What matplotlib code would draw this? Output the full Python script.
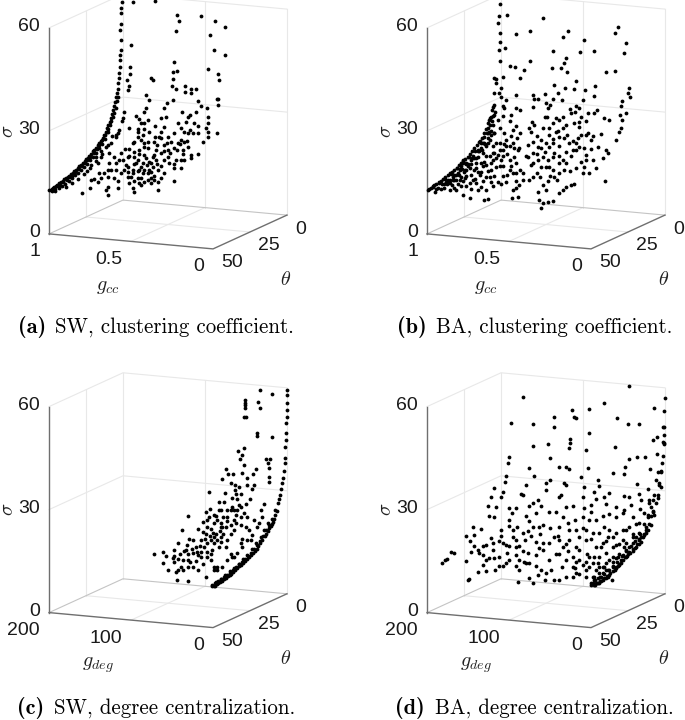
"""Four 3D scatter panels: sigma against theta and a graph metric."""

import numpy as np
import matplotlib
matplotlib.use("Agg")
import matplotlib.pyplot as plt
from mpl_toolkits.mplot3d import proj3d

plt.rcParams["font.family"] = ["Liberation Sans", "DejaVu Sans"]
plt.rcParams["mathtext.fontset"] = "cm"

SIGMA_TICKS = [0, 30, 60]
THETA_TICKS = [0, 25, 50]
GCC_TICKS = [1, 0.5, 0]
GDEG_TICKS = [200, 100, 0]
GCC_TICK_LABELS = ["1", "0.5", "0"]
GDEG_TICK_LABELS = ["200", "100", "0"]

# Only one projection is available, so the depth of the cloud points cannot be
# read: each cloud is listed as (g, sigma) on the theta plane named next to it.

# (a) SW, clustering coefficient
a_curve_g = 1.0
a_curve_theta = [49.8, 49, 48.2, 47.5, 46.6, 45.3, 44.5, 43, 42, 40.8, 39.6, 38.5, 37.4, 36.3, 35.2, 34, 33, 31.8,
                 30.6, 29.5, 28.4, 27.3, 26, 25, 23.8, 22.7, 21.6, 20.5, 19.4, 18.2, 17, 16, 15, 13.7, 12.6, 11.5,
                 10.7, 9.9, 9, 8.1, 7.3, 6.5, 5.8, 5.2, 4.6, 4.05, 3.6, 3.15, 2.8, 2.5, 2.2, 2.0, 1.8, 1.6, 1.35,
                 1.8, 1.6, 1.35, 1.1, 0.9, 0.8]
a_curve_sigma = [12.6, 12.6, 12.7, 12.8, 12.9, 13, 13.2, 13.4, 13.5, 13.6, 13.8, 13.9, 14, 14.2, 14.4, 14.7, 14.9, 15,
                 15.3, 15.6, 15.8, 16.1, 16.5, 16.8, 17, 17.3, 17.8, 18.2, 18.5, 18.9, 19.3, 19.7, 20.3, 20.9, 21.5,
                 22.2, 23, 23.8, 24.6, 25.4, 26.4, 27.5, 28.6, 29.7, 30.8, 31.9, 33.2, 34.6, 36, 37.4, 39.3, 41.2,
                 42.6, 44.1, 46.9, 49.9, 51.5, 54.7, 56.2, 58, 60.2]
a_band_g = 0.975
a_band_theta = [48.5, 46, 44, 42, 39.5, 37, 35, 33, 31, 29, 27, 25, 23, 21, 19, 17, 15, 13]
a_band_sigma = [12.3, 12.6, 12.9, 13.1, 13.5, 13.8, 14.2, 14.6, 15, 15.5, 16, 16.6, 17.3, 18, 18.9, 19.9, 21, 22.5]
a_band2_g = 0.99
a_band2_theta = [49.3, 47, 45, 43.5, 41.5, 39, 37, 35.7, 33.5, 31, 29, 27, 25.5, 23.3, 21, 19, 17.5, 15.5, 13, 12, 11,
                 10, 9, 8, 7, 6, 5, 4.5]
a_band2_sigma = [12.4, 12.6, 12.9, 13.1, 13.4, 13.7, 14, 14.2, 14.7, 15.2, 15.7, 16.3, 16.8, 17.3, 18, 18.7, 19.4, 20.5,
                 21.5, 22.3, 23, 24, 24.8, 25.8, 26.9, 28, 30, 31]
a_band3_g = 0.95
a_band3_theta = [44, 40, 36, 32, 28, 24, 20, 16, 13]
a_band3_sigma = [12.6, 13, 13.5, 14.2, 15.2, 16.2, 17.6, 19.5, 21.5]
a_cloud_theta = 30
a_cloud = [(.671, 64.9), (.533, 65.9), (.399, 62.4), (.386, 60.8), (.404, 57.8), (.252, 62.7), (.167, 61.7),
           (.110, 60.3), (.197, 57.4), (.177, 53.2), (.108, 52.1), (.681, 52.4), (.687, 46.1), (.685, 44), (.706, 42.3),
           (.693, 40.5), (.697, 39.3), (.417, 48.6), (.427, 45.6), (.399, 46.1), (.425, 43.6), (.561, 43.3),
           (.549, 42.8), (.209, 47.4), (.152, 46.3), (.146, 44.7), (.433, 41.6), (.404, 40.8), (.352, 41.9),
           (.315, 41.2), (.287, 41.4), (.352, 40.3), (.315, 40), (.587, 38.2), (.573, 37), (.157, 39), (.148, 39),
           (.148, 37.4), (.274, 37.8), (.254, 36.6), (.425, 37.6), (.461, 36.4), (.589, 34.6), (.604, 33.4),
           (.478, 34.9), (.725, 32.7), (.732, 30.9), (.736, 30.1), (.652, 31.9), (.634, 31.1), (.217, 36.2),
           (.213, 33.6), (.213, 31.8), (.224, 30.2), (.213, 29.2), (.213, 27.6), (.157, 29), (.244, 26.2), (.287, 34.8),
           (.323, 33.6), (.370, 34.4), (.295, 31.4), (.274, 30.7), (.346, 31.6), (.376, 29.5), (.323, 29.2),
           (.358, 28.6), (.496, 31.9), (.467, 32.5), (.537, 29.5), (.478, 29.6), (.620, 29.9), (.600, 30), (.636, 28.1),
           (.600, 28.5), (.569, 27.7), (.640, 25.9), (.661, 24.4), (.691, 28.2), (.760, 26.4), (.770, 25.3),
           (.801, 23.3), (.537, 26.4), (.507, 26.3), (.579, 24.8), (.543, 24.9), (.478, 24.3), (.437, 25.3),
           (.396, 25.1), (.356, 25.7), (.305, 28.4), (.366, 23.3), (.315, 22), (.274, 22.5), (.417, 23.5), (.457, 22.8),
           (.528, 22.5), (.579, 22.8), (.630, 22.1), (.671, 23.9), (.691, 22), (.742, 20.7), (.752, 18.6), (.772, 17.6),
           (.813, 17.4), (.864, 19.1), (.884, 17.1), (.640, 19.1), (.600, 20.8), (.610, 18.4), (.561, 18.5),
           (.528, 19.6), (.478, 20), (.407, 20.2), (.366, 22), (.315, 21.1), (.417, 17.7), (.376, 17.9), (.478, 16),
           (.518, 16.8), (.569, 16.5), (.610, 15.4), (.650, 18.1), (.701, 15.4), (.732, 18.7), (.772, 15.6),
           (.823, 15.4), (.874, 14.3), (.925, 12), (.884, 11.7), (.823, 13.5), (.782, 13.2), (.762, 10.4), (.823, 10.6),
           (.833, 9.6), (.823, 8.2), (.929, 9.8), (.980, 8.2), (.701, 13.9), (.640, 13.8), (.600, 13), (.561, 14.2),
           (.518, 13.4), (.421, 14), (.518, 11), (.691, 12.1), (.671, 10.8), (.661, 9.8), (.630, 12.4), (.762, 12.4),
           (.752, 27.3), (.772, 26), (.833, 22.1), (.864, 20.9), (.894, 19), (.925, 16.4), (.949, 14.7),
           (.661, 19.9), (.620, 17.2), (.579, 15.5), (.549, 17.5), (.589, 19.9), (.630, 16.3), (.671, 16.1),
           (.711, 17.4), (.496, 17.9), (.447, 19), (.376, 20.3), (.457, 20.9), (.498, 21.8), (.549, 20.5), (.600, 24.2),
           (.620, 25), (.498, 26.1), (.457, 26.7), (.417, 27.9), (.376, 26.1), (.335, 24.4), (.274, 28.6), (.335, 28.3),
           (.539, 13.8), (.579, 13.6), (.620, 11.9), (.561, 12.7), (.671, 15.2), (.721, 15.9), (.742, 14.9),
           (.803, 15.5), (.844, 14.4), (.864, 12.8), (.904, 12.6), (.783, 19.5), (.813, 20.3), (.701, 19.8),
           (.661, 21.4), (.610, 26.6), (.640, 27.4), (.579, 31), (.498, 28), (.396, 30.9), (.335, 33.1),
           (.70, 17), (.68, 14), (.66, 13), (.64, 16), (.62, 14), (.60, 16.5), (.58, 18), (.56, 16), (.54, 15),
           (.52, 18.5), (.50, 14.5), (.66, 18), (.63, 21), (.60, 23), (.57, 19), (.54, 21), (.52, 24), (.48, 22.5),
           (.46, 25), (.44, 22), (.42, 19), (.40, 23), (.38, 25), (.36, 20.5), (.34, 26), (.69, 20), (.72, 22)]

# (b) BA, clustering coefficient
b_curve_g = 1.0
b_curve_theta = [49.5, 48.5, 47.4, 46, 45, 43.8, 42, 40.5, 39.4, 38, 36, 34.8, 33, 31.5, 30, 28.5, 27, 25.6, 24, 22.5,
                 21, 19.5, 18, 16.5, 14.6, 13, 11.3, 10, 9, 7.8, 6.8, 5.6, 4.5, 3.2]
b_curve_sigma = [12.7, 12.9, 13, 13.2, 13.3, 13.3, 13.4, 13.4, 13.9, 14.1, 14.4, 14.6, 14.8, 15, 15.4, 15.7, 16, 16.4,
                 16.8, 17.1, 17.6, 18.1, 18.6, 19.2, 19.9, 20.7, 21.7, 22.8, 24.1, 25, 25.6, 28.3, 32, 36]
b_band_g = 0.96
b_band_theta = [49, 47, 45, 43, 41, 39, 37, 35, 33, 31, 29, 27, 25, 23, 21, 19, 17, 15, 13, 11, 9]
b_band_sigma = [12.2, 12.9, 12.4, 13.4, 12.8, 13.8, 13.2, 14.4, 13.9, 15.2, 14.6, 16, 15.6, 17, 16.6, 18.2, 18, 19.6,
                19.4, 21.4, 21.6]
b_band2_g = 0.98
b_band2_theta = [48, 46, 44, 42, 40, 38, 36, 34, 32, 30, 28, 26, 24, 22, 20, 18, 16, 14, 12, 10, 8, 6]
b_band2_sigma = [13.3, 12.5, 13.7, 13, 14.2, 13.5, 14.9, 14.2, 15.7, 15, 16.5, 15.8, 17.4, 16.8, 18.4, 18, 20, 19.5,
                 21.9, 21.8, 24.8, 27]
b_near_theta = 40
b_near = [(.648, 66.6), (.652, 62.9), (.604, 63.4), (.656, 61.1), (.648, 58.2), (.547, 58.3), (.648, 55.6), (.652, 53.2),
          (.612, 53.8), (.644, 50), (.587, 48.8), (.553, 48.7), (.679, 44.8), (.628, 45.3), (.669, 43.4), (.639, 42.1),
          (.652, 40.5), (.639, 39.6), (.679, 37), (.608, 38.8), (.693, 35.5), (.547, 40.5), (.618, 36.3), (.547, 36.6),
          (.526, 36.2), (.709, 33), (.689, 31.2), (.628, 33.9), (.577, 34.6), (.587, 32.6), (.547, 31.3), (.648, 30.4),
          (.719, 30.1), (.740, 27.5), (.770, 26), (.709, 26.7), (.669, 25.9), (.618, 29), (.577, 28.3), (.526, 29.4),
          (.567, 26.4), (.537, 24.6), (.608, 25.2), (.648, 24.1), (.689, 22.9), (.730, 21.8), (.780, 21.5), (.821, 20.4),
          (.872, 20.2), (.689, 21), (.628, 22.2), (.587, 21.4), (.547, 20.6), (.648, 19.2), (.699, 18), (.750, 18.8),
          (.801, 17.6), (.852, 17.3), (.892, 17.2), (.567, 17.6), (.628, 16.4), (.679, 16.2), (.730, 15.9), (.770, 16.2),
          (.811, 14.6), (.872, 13.9), (.923, 14.1), (.974, 13.4), (.608, 15), (.547, 15.3), (.689, 13.2), (.730, 12.1),
          (.780, 11.8), (.831, 9.2), (.872, 10), (.923, 11.7), (.882, 12.4), (.740, 9.1), (.719, 9.4), (.567, 12.8),
          (.547, 13.3), (.573, 10.3), (.537, 10.9), (.984, 11.4), (.963, 13.1), (.953, 11.1), (.933, 14.9), (.913, 14.2),
          (.902, 16.2), (.882, 18.2), (.862, 16.7), (.852, 19.3), (.831, 18), (.811, 21.4), (.791, 19.6), (.780, 23.5),
          (.750, 22.7), (.750, 25.6), (.719, 27.1), (.730, 24.7), (.699, 29.2), (.709, 31.1), (.679, 34.1), (.689, 33.6),
          (.892, 14.3), (.852, 15.4), (.821, 16), (.791, 18.1), (.760, 19.7), (.730, 19.4), (.709, 21.9), (.669, 21.6),
          (.628, 24.1), (.587, 25.3), (.557, 22.5), (.669, 19.1), (.628, 19.3), (.587, 18.5), (.547, 17.7), (.526, 18.8),
          (.608, 27.2), (.567, 30.2), (.648, 26), (.689, 24.9), (.679, 28.8), (.658, 32.8), (.628, 36.8), (.913, 11.3),
          (.852, 12.5), (.791, 13.7), (.750, 14.4), (.709, 16), (.658, 14.7), (.831, 13.6), (.882, 15.2), (.953, 13),
          (.80, 15), (.78, 17), (.76, 17), (.74, 20), (.72, 17.5), (.70, 20), (.68, 23), (.66, 22.5), (.64, 21), (.62, 26),
          (.60, 23), (.58, 19.5), (.56, 25), (.54, 28), (.60, 17), (.64, 14), (.70, 14.5), (.76, 12.6), (.82, 12),
          (.86, 15), (.90, 13), (.94, 12.5), (.84, 18.5), (.76, 24), (.72, 28.5)]
b_far_theta = 20
b_far = [(.640, 54.8), (.563, 58.8), (.443, 54), (.409, 55.9), (.315, 53.6), (.122, 56.5), (.106, 58.4), (.057, 53.7),
         (.071, 50.8), (.504, 49.5), (.336, 49.9), (.254, 50.6), (.423, 47.8), (.433, 46.3), (.640, 46.1), (.679, 43.3),
         (.508, 44.5), (.451, 44.9), (.419, 43.9), (.179, 44.7), (.122, 45.4), (.703, 40.7), (.496, 39.7), (.364, 41.4),
         (.431, 39.2), (.376, 38.9), (.246, 40.5), (.250, 37.6), (.305, 38.9), (.037, 40.7), (.047, 39.2), (.033, 38.3),
         (.473, 37.3), (.622, 36.2), (.553, 36.7), (.616, 35), (.595, 35.1), (.545, 34.1), (.520, 33.7), (.447, 35.5),
         (.317, 36.1), (.364, 34.1), (.368, 32.5), (.343, 33.6), (.081, 36.9), (.085, 35.2), (.057, 33.4), (.093, 32.7),
         (.081, 31.3), (.087, 28.8), (.098, 27.8), (.118, 25.3), (.189, 31.5), (.159, 31), (.236, 33.6), (.250, 32.5),
         (.291, 32.3), (.331, 31.2), (.343, 29.7), (.626, 32.8), (.539, 30.3), (.484, 30), (.534, 32.7), (.632, 28.4),
         (.616, 27.5), (.650, 26.4), (.565, 26.8), (.524, 26.9), (.423, 28.3), (.372, 29.1), (.484, 26.1), (.443, 27.3),
         (.343, 28.2), (.331, 25.8), (.301, 26), (.260, 25.9), (.209, 26.6), (.179, 22.1), (.169, 21.4), (.199, 19.6),
         (.260, 18.9), (.301, 18.7), (.343, 22.4), (.311, 22), (.364, 23.3), (.404, 23.1), (.433, 24.4), (.463, 24.8),
         (.524, 25), (.575, 23.3), (.626, 22.6), (.575, 20.9), (.626, 19.2), (.667, 18.1), (.707, 20.3), (.657, 21.5),
         (.496, 19.8), (.504, 18.8), (.534, 17.7), (.595, 17.4), (.626, 16.3), (.575, 15.5), (.545, 15.7), (.463, 17),
         (.423, 17.2), (.382, 21.2), (.331, 18.1), (.311, 16.7), (.321, 14.7), (.280, 14.9), (.240, 16.5), (.183, 13.1),
         (.433, 15.2), (.463, 14.1), (.496, 13), (.534, 11.4), (.565, 10.3), (.595, 8.2), (.545, 8.9), (.423, 10.4),
         (.443, 9.3), (.463, 8.3), (.392, 11), (.372, 11.3), (.626, 12.4), (.687, 11.2), (.646, 11.3), (.585, 5.8),
         (.565, 4.9), (.575, 3.4), (.534, 5.5), (.504, 5.9), (.707, 9.6),
         (.687, 13.1), (.636, 15.8), (.602, 13.5), (.563, 18.5), (.524, 21.6), (.545, 22.5), (.602, 24.2), (.595, 21.3),
         (.657, 17.9), (.524, 15.8), (.504, 14.9), (.463, 19), (.423, 20.6), (.443, 18.1), (.392, 19.3), (.364, 21.3),
         (.463, 21.9), (.504, 22.7), (.636, 25.5), (.504, 28.5), (.463, 29.6), (.270, 24.7), (.230, 22.9), (.443, 30.7),
         (.392, 31.9), (.291, 26.5),
         (.60, 19), (.55, 20), (.50, 24), (.47, 26.5), (.42, 25.5), (.38, 24), (.35, 25), (.30, 20), (.27, 22), (.40, 15),
         (.36, 16), (.52, 13), (.58, 12.5), (.48, 12), (.55, 30), (.50, 35.5), (.40, 33), (.30, 30)]

# (c) SW, degree centralization
c_curve_g = 0.0
c_curve_theta = [49.5, 48.9, 47.6, 46.4, 45.2, 44, 42.8, 41.4, 40, 38.8, 37.6, 36.2, 35, 33.6, 32.2, 30.9, 29.6, 28.2,
                 27, 25.8, 24.4, 23.2, 21.8, 20.6, 19.4, 18, 16.6, 15.1, 14, 13, 12, 11, 10.2, 9.4, 8.6, 7.8, 7, 6.1,
                 5.4, 4.7, 4, 3.4, 2.8, 2.2, 1.6, 1.3, 1.1, 0.9, 0.7, 0.5, 0.3, 0.2, 0.1, 0, 0]
c_curve_sigma = [11.9, 12, 12.1, 12.2, 12.4, 12.5, 12.6, 12.8, 12.95, 13.1, 13.3, 13.6, 13.8, 14.1, 14.3, 14.6, 14.9,
                 15.2, 15.5, 15.8, 16.1, 16.4, 16.7, 17.2, 17.7, 18.2, 19, 19.7, 20.3, 20.9, 21.4, 22, 22.4, 22.9,
                 23.6, 24.5, 25.5, 27.6, 28.6, 29.7, 31.2, 32.9, 34.4, 36.3, 38.4, 39.8, 43.1, 45, 47, 49.8, 51.5,
                 53.5, 55.5, 58, 59.4]
c_band_g = 5
c_band_theta = [48, 45, 42, 39, 36, 33, 30, 27, 24, 21, 18, 15, 12.5, 10]
c_band_sigma = [12, 12.3, 12.6, 13, 13.5, 14, 14.6, 15.3, 16, 17, 18.2, 19.5, 21, 22.5]
c_band2_g = 2.5
c_band2_theta = [49, 47, 45, 43, 41, 39, 37, 35, 33, 31, 29, 27, 25, 23, 21, 19, 17, 15, 13, 11, 9, 7]
c_band2_sigma = [12, 12.2, 12.4, 12.6, 12.8, 13, 13.4, 13.8, 14.2, 14.6, 15, 15.5, 16, 16.5, 17.1, 17.9, 18.7, 19.8,
                 21, 22.2, 23.6, 25.8]
c_cloud_theta = 10
c_cloud = [(32.9, 57.8), (32.9, 56.9), (32.9, 56.2), (32.9, 55.4), (34.1, 52.7), (32.1, 52.8), (15.4, 61.1), (17.1, 57.5),
           (14.6, 55.9), (0.5, 60.1), (18.7, 48.5), (18.7, 47.5), (0.8, 47.6), (34.9, 43.8), (41.5, 42.6), (37.4, 41.5),
           (39, 40.5), (7.3, 41.2), (2.4, 41.3), (5.7, 39.8), (3.7, 38.4), (3.7, 35.9), (3.7, 34.5), (34.1, 38.7),
           (19.9, 38), (22.8, 36.5), (56.1, 37), (61.8, 34.2), (53.7, 35.8), (47.6, 35.9), (37.4, 36.2), (30.1, 34.9),
           (22, 33.1), (24, 32.1), (50.4, 33), (45.1, 32.6), (40.2, 32.2), (45.5, 31.1), (38.2, 30.3), (42.3, 28.8),
           (77.6, 30), (64.6, 27.3), (58.5, 27.5), (48.4, 28.7), (26.8, 29.1), (32.1, 27.5), (9.8, 28), (13.8, 26),
           (34.9, 24.6), (30.1, 23.7), (62.6, 24.9), (54.5, 25.1), (46.3, 25.3), (75.6, 25.1), (81.3, 24), (102.4, 22.3),
           (70.7, 23.3), (66.7, 21.9), (60.6, 20.1), (54.5, 23.2), (78.9, 21.7), (79.7, 19.7), (74.8, 19.3), (44.3, 21.5),
           (38.2, 21.1), (32.1, 20.8), (15.9, 22.1), (17.9, 21.1), (24, 18.5), (30.1, 16.9), (36.2, 14.8), (46.3, 19.5),
           (50.4, 18.4), (54.5, 16.4), (62.6, 17.2), (68.7, 18), (70.7, 15.1), (62.6, 15.7), (56.5, 14.4), (84.9, 18.1),
           (86.9, 15.7), (97.1, 15.4), (101.1, 15.8), (110, 18.1), (115.4, 14.3), (119.5, 12), (93, 13.6), (82.9, 13.8),
           (72.8, 13.1), (78.9, 11), (86.9, 12.3), (97.1, 11.6), (103.1, 11.4), (109.3, 9.4), (115.4, 9.7), (111.4, 7.4),
           (119.5, 8.6), (121.5, 9.6), (133.7, 11.3), (129.7, 10.1), (143.9, 10.5), (132.9, 7.9), (127.6, 6), (117.5, 5.8),
           (116.3, 3.4), (103.1, 3.5), (90.9, 6.8), (97.1, 7.7), (103.1, 7.6), (81.3, 5.1), (66.7, 8.4), (54.5, 10.6),
           (48.4, 11.7), (38.2, 15.8), (26, 17), (70.7, 7.3), (60.6, 8.5), (42.3, 12.8),
           (70.7, 17), (74.8, 15.9), (78.9, 14.9), (66.7, 16.1), (64.6, 14.2), (81.3, 17.7), (62.6, 20.1), (56.5, 20.2),
           (50.4, 25.2), (48.4, 26.2), (42.3, 25.4), (38.2, 23.5), (86.9, 10.8), (93, 9.6), (103.1, 9.5), (109.3, 6.4),
           (115.4, 6.3), (105.2, 12.4), (90.9, 11.2), (84.9, 8.9), (74.8, 10.1), (70.7, 8.3), (46.3, 11.7), (66.7, 7.4),
           (50.4, 12.6), (36.2, 17.2), (28, 19.8), (22, 23), (11.8, 24.1), (62.6, 21.1), (70.7, 20.9), (76.8, 22.7),
           (46.3, 22.4), (38.2, 26.5), (30.1, 33),
           (55, 22), (60, 23), (65, 25), (68, 23), (72, 18), (76, 17), (82, 16), (88, 14), (92, 12), (98, 13), (104, 14),
           (108, 12), (112, 11), (120, 10.5), (60, 18), (64, 19), (50, 21), (44, 24), (40, 27), (44, 30), (58, 30), (84, 21),
           (90, 19), (100, 9), (80, 12.5), (75, 12)]

# (d) BA, degree centralization
d_curve_g = 0.0
d_curve_theta = [47.75, 47, 46, 45, 44, 43, 42.1, 41, 40, 39, 38, 37, 35.4, 34, 33, 32, 31, 30, 28.6, 27, 26, 25, 23.5,
                 21.8, 20.5, 19, 17.3, 16, 14.5, 12.8, 11, 9.5, 8, 6.1, 5, 3.8, 2.7, 2, 1.4, 0.9, 0.5]
d_curve_sigma = [12.1, 11.9, 12.2, 12, 12.3, 12.2, 12.4, 12.7, 12.6, 13, 12.9, 13.3, 13.5, 13.7, 14, 14.3, 14.5, 15,
                 15.6, 15.9, 16, 16.4, 16.5, 16.7, 17.5, 18.2, 19.2, 19.8, 20.4, 21.2, 22.5, 24.4, 25.8, 27.6, 29.8,
                 33, 36.2, 38.4, 40.5, 44.2, 48.8]
d_band_g = 4
d_band_theta = [48, 45, 42, 39, 36, 33, 30, 27, 24, 21, 18, 15, 12, 9.5, 7.5, 6]
d_band_sigma = [12.6, 12.9, 13, 13.5, 14, 14.6, 15.2, 16.3, 17, 17.9, 18.9, 20.4, 22.5, 24.8, 26.6, 28.4]
d_near_theta = 40
d_near = [(199.6, 12.6), (196.7, 13.3), (193.5, 13.7), (188.6, 15.8), (184.6, 15.7), (171.1, 21), (165.4, 19.5),
          (160.2, 21.4), (152, 23.4), (162.2, 23.9), (143.9, 30.2), (135.8, 35.7), (140.6, 32.9), (142.7, 27.3),
          (135.8, 27.4), (133.7, 30.2), (125.6, 34.9), (127.6, 33.4), (117.5, 45.1), (118.7, 43.3), (121.5, 39.4),
          (122.4, 37.9), (117.5, 30.3), (109.3, 30.4), (114.2, 28.9), (127.6, 23.7), (127.6, 21.8), (117.5, 26.9),
          (118.3, 24.9), (108.5, 25.1), (101.2, 23.3), (93.1, 26.9), (115.4, 55.2), (101.2, 63.1), (89, 55.3), (89, 49),
          (94.3, 42.4), (87, 40.3), (103.3, 34.6), (97.2, 37.5), (101.2, 34.5), (82.9, 33.4), (93.1, 31.3), (78.9, 31.6),
          (85, 29.5), (80.9, 25.7), (89, 25.5), (76.8, 26.3), (171.1, 13.8), (160.2, 18.2), (156.1, 17.3), (150, 18.4),
          (145.9, 19), (137.8, 19.6), (164.2, 16.6), (154.1, 16.3), (141.9, 15.2), (135.8, 15.3), (156.1, 10.9),
          (145.9, 11.2), (166.3, 8.5), (168.3, 8.1), (125.6, 13.1), (121.5, 14.1), (117.5, 15.2), (109.3, 16.8),
          (101.2, 18), (109.3, 13.5), (105.3, 12.6), (107.3, 9.1), (89, 9), (117.5, 19.1), (109.3, 21.2), (99, 21.4),
          (95, 17.6), (85, 17.4), (97.2, 14.7), (80.9, 19.4), (76.8, 19), (78.9, 13.1), (82.9, 11.6), (74.7, 10.3),
          (93.1, 10.4), (129.7, 20.3), (125.6, 19.9), (121.5, 19.5), (150, 16), (137.8, 17.7),
          (145.9, 14.6), (129.7, 15.9), (113.4, 22), (105.3, 19.4), (91, 22.6), (97.2, 28.3), (89, 32.3), (113.4, 23.9),
          (76.8, 20.9), (85, 14), (93.1, 14.8), (129.7, 13), (105.3, 15.5),
          (150, 13), (140, 21), (120, 17), (110, 19), (100, 15), (95, 24), (85, 21), (80, 23.5), (135, 12)]
d_far_theta = 0
d_far = [(135.8, 48.6), (135, 45.7), (113.4, 51), (111.4, 49.1), (108.5, 48.7), (115.4, 42.7), (115.4, 41.3), (116.7, 39.8),
         (92.3, 51.7), (92.3, 44.7), (74.8, 53.8), (58.5, 50), (44.3, 59.5), (44.7, 48.4), (32.1, 48.7), (13, 53.7),
         (0, 57), (0.8, 53.3), (96.3, 39.7), (142.7, 40.5), (140.2, 36.4), (128.9, 34), (120.7, 34.3), (117.5, 33.9),
         (94.3, 34.6), (60.6, 41.3), (44.3, 38.4), (34.1, 39.2), (24, 39.2), (9.8, 40.5), (14.2, 44.4), (10.2, 45.5),
         (2.8, 48.6), (0.8, 46.2), (2.8, 44.2), (1.6, 43.5), (63.8, 33.9), (48.4, 35.9), (49.6, 33.9), (139.8, 30),
         (145, 29), (145, 27), (122.8, 29.5), (120.7, 29), (102.4, 31.8), (98.4, 29), (82.1, 31.3), (80.1, 29.6),
         (18.3, 35.9), (8.9, 35.3), (4.9, 35.4), (11, 32.9), (6.9, 31.5), (21.1, 30.2), (34.6, 31.2), (68, 28), (50.4, 27.3),
         (43.5, 27.3), (31.3, 28.5), (29.3, 26.6), (41.5, 24.9), (49.6, 23.3), (51.6, 22.3), (74, 26.6), (71.9, 24.7),
         (86.2, 27.8), (84.2, 25.9), (90.3, 23.9), (98.4, 22.7), (112.6, 23.1), (120.7, 22.7), (128.9, 25.4), (126.8, 26),
         (141, 20.8), (132.9, 21), (124.7, 19.7), (118.6, 17.9), (100.4, 20.2), (92.3, 19.4), (84.2, 19.6), (67.9, 21.9),
         (59.8, 21.1), (39.4, 21.6), (31.3, 19.8), (21.1, 22), (15, 23.6), (8.9, 27.6), (4.9, 31), (23.2, 19), (31.3, 16.9),
         (39.4, 16.7), (47.6, 17.5), (59.8, 16.3), (67.9, 17.1), (74, 17.9), (88.3, 15.7), (96.5, 16.4), (108.5, 16.2),
         (116.7, 16), (128.9, 16.7), (135, 13.7), (141, 11.6), (128.9, 12.8), (120.7, 12), (108.5, 11.3), (96.3, 13.5),
         (84.2, 11.9), (76, 13), (63.8, 12.3), (51.6, 14.5), (39.4, 13.8), (31.3, 15.4), (23.2, 17.1), (141, 6.7),
         (128.9, 8.9), (120.7, 7.2), (112.6, 5.4), (104.5, 7.5), (96.3, 7.2), (108.5, 3.6), (120.7, 2.3), (128.9, 1.2),
         (145.1, 2.8), (96.3, 2.8), (88.3, 1.1), (84.2, 5.1), (80.1, 9), (72, 10.2), (63.8, 9.4), (55.7, 10.5), (47.6, 11.7),
         (39.4, 12.3), (72, 5.3), (63.8, 6.5), (55.7, 7.6), (88.3, 3), (76, 4.3), (67.9, 8.3), (59.8, 9), (51.6, 10.1),
         (43.5, 11.3), (35.4, 12.9), (29.3, 14.5), (25.2, 16.6), (21.1, 18.1), (17.1, 19.6), (13, 22.6), (92.3, 8.8),
         (84.2, 1.2), (86.2, 2.1), (82.1, 2.7), (78.1, 3.2), (74, 6.3), (90.3, 0.6),
         (86.2, 2.9), (80.1, 4.2), (80.1, 1.3), (76, 6.2), (72, 7.3), (67.9, 5.4), (63.8, 8), (59.8, 6.6), (57.7, 9.5),
         (53.7, 8.6), (47.6, 9.7), (43.5, 12.7), (35.4, 15.9), (31.3, 13.9), (27.2, 16), (39.4, 15.7), (47.6, 13.9),
         (55.7, 13.4), (63.8, 15.1), (72, 13.9), (78.1, 12), (86.2, 8.9), (92.3, 5.8), (96.3, 4.8), (104.5, 3.6),
         (112.6, 2.5), (80.1, 6.1), (82.1, 7.1), (88.3, 7), (104.5, 10.4), (112.6, 8.3), (108.5, 7), (100.4, 6.2),
         (51.6, 17.4), (43.5, 18.6), (35.4, 19.7), (25.2, 22.9), (19.1, 25.9), (13, 28.4), (104.5, 14.3), (116.7, 13.1),
         (124.7, 11), (132.9, 8.8), (139, 3.9), (135, 1),
         (110, 19), (100, 17), (90, 14), (80, 16), (70, 15), (60, 13), (50, 12.5), (90, 22), (76, 21), (100, 26), (60, 24),
         (30, 24), (20, 27), (70, 3.5), (95, 9.5), (110, 5), (118, 10), (125, 5), (130, 14), (140, 16), (65, 2.5)]

AXIS_COLOR = "#6f6f6f"
GRID_COLOR = "#e8e8e8"
EDGE_COLOR = "#c4c4c4"
DOT_SIZE = 7.5
AX_PX = 321.0


def add_panel(cx, cy):
    """3D axes whose box centre lands on pixel (cx, cy) from the top left."""
    left = (cx - 0.5135 * AX_PX) / 685
    bottom = (720 - cy - 0.5135 * AX_PX) / 720
    ax = plt.gcf().add_axes([left, bottom, AX_PX / 685, AX_PX / 720], projection="3d", proj_type="ortho")
    ax.set_facecolor("none")
    ax.set_axis_off()
    ax.computed_zorder = False
    return ax


def label(ax, x, y, z, text, dx, dy, **kwargs):
    px, py, _ = proj3d.proj_transform(x, y, z, ax.get_proj())
    ax.annotate(text, (px, py), xytext=(dx, dy), textcoords="offset pixels", annotation_clip=False, **kwargs)


def draw_frame(ax, g_ticks, g_tick_labels, g_name, g_dx):
    g_hi, g_mid, g_lo = g_ticks
    ax.set_xlim(g_hi, g_lo, view_margin=0)
    ax.set_ylim(50, 0, view_margin=0)
    ax.set_zlim(0, 60, view_margin=0)
    ax.set_box_aspect((179.6, 181, 210.4))
    ax.view_init(elev=11.8, azim=-65.9)

    top = SIGMA_TICKS[-1]
    # walls and floor
    for s in SIGMA_TICKS[1:]:
        ax.plot([g_hi, g_hi, g_lo], [50, 0, 0], [s, s, s], color=GRID_COLOR, lw=0.8, zorder=1)
    ax.plot([g_mid, g_mid], [0, 0], [0, top], color=GRID_COLOR, lw=0.8, zorder=1)
    ax.plot([g_hi, g_hi], [25, 25], [0, top], color=GRID_COLOR, lw=0.8, zorder=1)
    ax.plot([g_hi, g_hi], [0, 0], [0, top], color=GRID_COLOR, lw=0.8, zorder=1)
    ax.plot([g_lo, g_lo], [0, 0], [0, top], color=GRID_COLOR, lw=0.8, zorder=1)
    ax.plot([g_mid, g_mid], [50, 0], [0, 0], color=GRID_COLOR, lw=0.8, zorder=1)
    ax.plot([g_hi, g_lo], [25, 25], [0, 0], color=GRID_COLOR, lw=0.8, zorder=1)
    ax.plot([g_hi, g_hi, g_lo], [50, 0, 0], [0, 0, 0], color=EDGE_COLOR, lw=0.8, zorder=1)
    # front axes
    ax.plot([g_hi, g_hi], [50, 50], [0, top], color=AXIS_COLOR, lw=1.0, zorder=2)
    ax.plot([g_hi, g_lo, g_lo], [50, 50, 0], [0, 0, 0], color=AXIS_COLOR, lw=1.0, zorder=2)

    font = dict(fontsize=14, color="#1a1a1a", va="center")
    for s in SIGMA_TICKS:
        label(ax, g_hi, 50, s, str(s), -9, 1, ha="right", **font)
    for g, text in zip(g_ticks, g_tick_labels):
        label(ax, g, 50, 0, text, -9, -18, ha="right", **font)
    for t in THETA_TICKS:
        label(ax, g_lo, t, 0, str(t), 8, -14, ha="left", **font)

    maths = dict(fontsize=14.5, color="#222222", ha="center", va="center")
    label(ax, g_hi, 50, 30, r"$\sigma$", -41, 0, rotation=90, **maths)
    label(ax, g_mid, 50, 0, g_name, g_dx, -45, **maths)
    label(ax, g_lo, 25, 0, r"$\theta$", 36, -48, **maths)


def draw_points(ax, g, theta, sigma):
    g = np.broadcast_to(g, np.shape(sigma))
    theta = np.broadcast_to(theta, np.shape(sigma))
    ax.scatter(g, theta, sigma, s=DOT_SIZE, c="black", linewidths=0, depthshade=False, zorder=3)


def draw_cloud(ax, cloud, theta):
    cloud = np.array(cloud)
    draw_points(ax, cloud[:, 0], theta, cloud[:, 1])


def caption(tag, text, x_tag, x_text, y):
    fig = plt.gcf()
    fig.text(x_tag / 685, 1 - y / 720, tag, family="cmb10", fontsize=16, va="baseline")
    fig.text(x_text / 685, 1 - y / 720, text, family="cmr10", fontsize=15.05, va="baseline")


fig = plt.figure(figsize=(6.85, 7.2), dpi=100)

ax_a = add_panel(168, 121.5)
draw_frame(ax_a, GCC_TICKS, GCC_TICK_LABELS, r"$g_{cc}$", -23)
draw_points(ax_a, a_curve_g, a_curve_theta, a_curve_sigma)
draw_points(ax_a, a_band_g, a_band_theta, a_band_sigma)
draw_points(ax_a, a_band2_g, a_band2_theta, a_band2_sigma)
draw_points(ax_a, a_band3_g, a_band3_theta, a_band3_sigma)
draw_cloud(ax_a, a_cloud, a_cloud_theta)

ax_b = add_panel(546, 121.5)
draw_frame(ax_b, GCC_TICKS, GCC_TICK_LABELS, r"$g_{cc}$", -23)
draw_points(ax_b, b_curve_g, b_curve_theta, b_curve_sigma)
draw_points(ax_b, b_band_g, b_band_theta, b_band_sigma)
draw_points(ax_b, b_band2_g, b_band2_theta, b_band2_sigma)
draw_cloud(ax_b, b_near, b_near_theta)
draw_cloud(ax_b, b_far, b_far_theta)

ax_c = add_panel(168, 500.2)
draw_frame(ax_c, GDEG_TICKS, GDEG_TICK_LABELS, r"$g_{deg}$", -33)
draw_points(ax_c, c_curve_g, c_curve_theta, c_curve_sigma)
draw_points(ax_c, c_band_g, c_band_theta, c_band_sigma)
draw_points(ax_c, c_band2_g, c_band2_theta, c_band2_sigma)
draw_cloud(ax_c, c_cloud, c_cloud_theta)

ax_d = add_panel(546, 500.2)
draw_frame(ax_d, GDEG_TICKS, GDEG_TICK_LABELS, r"$g_{deg}$", -33)
draw_points(ax_d, d_curve_g, d_curve_theta, d_curve_sigma)
draw_points(ax_d, d_band_g, d_band_theta, d_band_sigma)
draw_cloud(ax_d, d_near, d_near_theta)
draw_cloud(ax_d, d_far, d_far_theta)

caption("(a)", "SW, clustering coefficient.", 18, 55, 333)
caption("(b)", "BA, clustering coefficient.", 397, 436, 333)
caption("(c)", "SW, degree centralization.", 17, 54, 714)
caption("(d)", "BA, degree centralization.", 395, 435, 714)

fig.savefig("out.png", dpi=100)
